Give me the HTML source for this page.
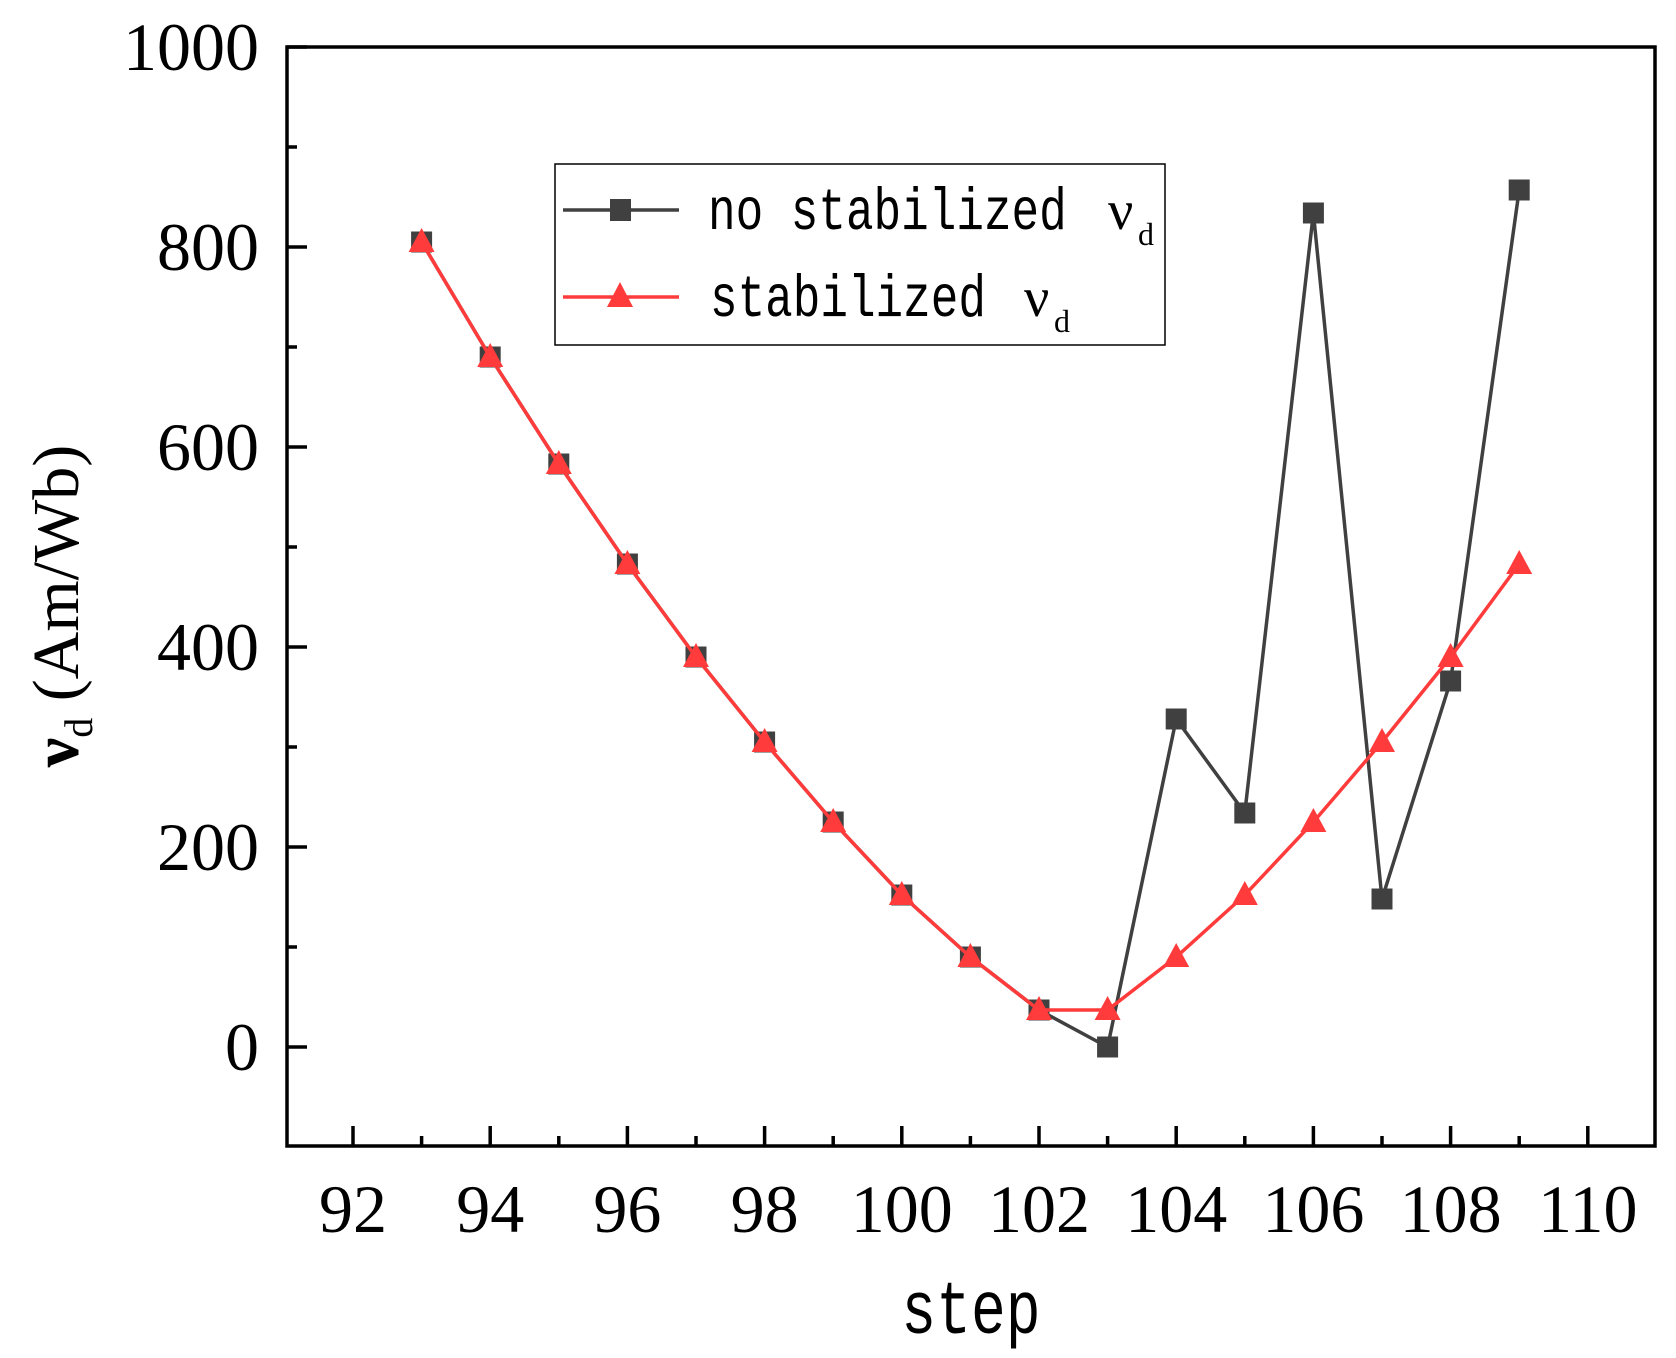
<!DOCTYPE html>
<html><head><meta charset="utf-8"><style>
html,body{margin:0;padding:0;background:#fff;}
svg{display:block;}
.tick{font-family:"Liberation Serif",serif;font-size:68px;fill:#000;}
.mono{font-family:"Liberation Mono",monospace;fill:#000;}
.serif{font-family:"Liberation Serif",serif;fill:#000;}
</style></head><body>
<svg id="chart" width="1676" height="1358" viewBox="0 0 1676 1358" xmlns="http://www.w3.org/2000/svg">
<rect x="0" y="0" width="1676" height="1358" fill="#fff"/>
<g id="series"></g>
<rect x="287" y="47" width="1368" height="1099" fill="none" stroke="#000" stroke-width="3.5"/>
<g id="axes"></g>
<text class="serif" transform="translate(78,606) rotate(-90)" text-anchor="middle" font-size="66"><tspan font-weight="bold">ν</tspan><tspan font-size="40" dy="14">d</tspan><tspan dy="-14"> (Am/Wb)</tspan></text>
<text class="mono" x="971" y="1330" text-anchor="middle" font-size="58" transform="translate(0,-396) scale(1,1.3)">step</text>
<g>
<rect x="555" y="164" width="610" height="181" fill="#fff" stroke="#000" stroke-width="1.5"/>
<g>
<line x1="563" y1="210" x2="679" y2="210" stroke="#404040" stroke-width="3.5"/>
<rect x="610" y="199" width="21" height="22" fill="#404040"/>
<text class="mono" x="708" y="176" font-size="46" transform="scale(1,1.3)">no stabilized</text>
<text class="serif" x="1108" y="229" font-size="56">ν</text>
<text class="serif" x="1138" y="245" font-size="32">d</text>
</g>
<g>
<line x1="563" y1="297" x2="679" y2="297" stroke="#ff3b3b" stroke-width="3.5"/>
<polygon points="620,282 607,307 633,307" fill="#ff3b3b"/>
<text class="mono" x="710" y="243" font-size="46" transform="scale(1,1.3)">stabilized</text>
<text class="serif" x="1024" y="316" font-size="56">ν</text>
<text class="serif" x="1054" y="332" font-size="32">d</text>
</g>
</g>
</svg>
<script>
const steps=[93,94,95,96,97,98,99,100,101,102,103,104,105,106,107,108,109];
const noStab=[805,690,583,483,390,305,225,152,90,37,0,328,234,834,148,366,857];
const stab=[805,690,583,483,390,305,225,152,90,37,37,90,152,225,305,390,483];
const xTicks=[92,94,96,98,100,102,104,106,108,110];
const xMinor=[93,95,97,99,101,103,105,107,109];
const yTicks=[0,200,400,600,800,1000];
const yMinor=[100,300,500,700,900];
const NS="http://www.w3.org/2000/svg";
function xs(v){return 353+(v-92)*68.6;}
function ys(v){return 1047-(v)*1.0;}
function mk(tag,attrs,parent){const e=document.createElementNS(NS,tag);for(const k in attrs)e.setAttribute(k,attrs[k]);parent.appendChild(e);return e;}
const axes=document.getElementById('axes');
xTicks.forEach(t=>{
 const l=mk('line',{x1:xs(t),x2:xs(t),y1:1146,y2:1126,stroke:'#000','stroke-width':3.5},axes);
 
 
 const tx=mk('text',{x:xs(t),y:1232,'text-anchor':'middle',class:'tick'},axes);
 tx.textContent=t;
 
 
});
xMinor.forEach(t=>{
 const l=mk('line',{x1:xs(t),x2:xs(t),y1:1146,y2:1136,stroke:'#000','stroke-width':3.5},axes);
 
 
});
yTicks.forEach(t=>{
 const l=mk('line',{x1:287,x2:307,y1:ys(t),y2:ys(t),stroke:'#000','stroke-width':3.5},axes);
 
 
 const tx=mk('text',{x:259,y:ys(t)+23,'text-anchor':'end',class:'tick'},axes);
 tx.textContent=t;
 
 
});
yMinor.forEach(t=>{
 const l=mk('line',{x1:287,x2:297,y1:ys(t),y2:ys(t),stroke:'#000','stroke-width':3.5},axes);
 
 
});
const ser=document.getElementById('series');
const p1=mk('polyline',{points:steps.map((s,i)=>xs(s)+','+ys(noStab[i])).join(' '),fill:'none',stroke:'#404040','stroke-width':3.5},ser);


steps.forEach((s,i)=>{
 const r=mk('rect',{x:xs(s)-10.5,y:ys(noStab[i])-10.5,width:21,height:21,fill:'#404040'},ser);
 
 
});
const p2=mk('polyline',{points:steps.map((s,i)=>xs(s)+','+ys(stab[i])).join(' '),fill:'none',stroke:'#ff3b3b','stroke-width':3.5},ser);


steps.forEach((s,i)=>{
 const x=xs(s),y=ys(stab[i]);
 const t=mk('polygon',{points:`${x},${y-14} ${x-13},${y+10} ${x+13},${y+10}`,fill:'#ff3b3b'},ser);
 
 
});
</script>
</body></html>
